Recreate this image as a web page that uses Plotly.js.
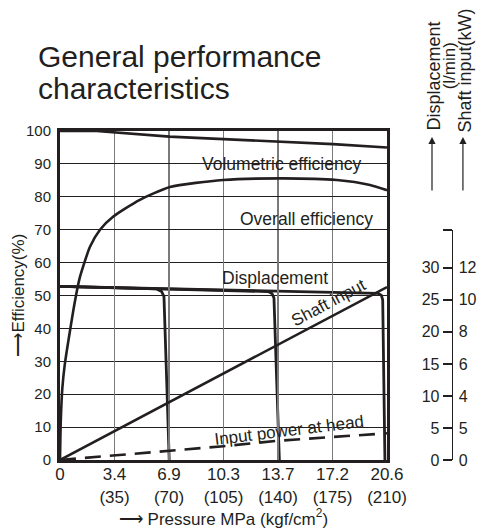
<!DOCTYPE html>
<html>
<head>
<meta charset="utf-8">
<script src="https://cdn.plot.ly/plotly-3.0.1.min.js"></script>
<style>html,body{margin:0;padding:0;background:#fff;}#chart{width:477px;height:532px;}</style>
</head>
<body>
<div id="chart"></div>
<script>
// ---- tick labels ----
var pressureTickVals = [0, 3.433, 6.867, 10.3, 13.733, 17.167, 20.6];
var pressureMPa = ['0', '3.4', '6.9', '10.3', '13.7', '17.2', '20.6'];
var pressureKgf = ['', '(35)', '(70)', '(105)', '(140)', '(175)', '(210)'];
var effTicks = [0, 10, 20, 30, 40, 50, 60, 70, 80, 90, 100];
var dispTickVals = [0, 5, 10, 15, 20, 25, 30, 35.9];
var dispTickText = ['0', '5', '10', '15', '20', '25', '30', ''];
var shaftTickVals = [0, 2, 4, 6, 8, 10, 12];
var shaftTickText = ['0', '5', '4', '6', '8', '10', '12'];

// ---- Volumetric efficiency (%) ----
var volP = [0, 2.3, 6.9, 10.3, 13.7, 17.2, 20.6];
var volE = [100, 100, 98.3, 97.6, 96.9, 96.0, 95.0];

// ---- Overall efficiency (%) ----
var ovP = [0, 0.05, 0.15, 0.3, 0.62, 0.95, 1.25, 1.89, 2.52, 3.36, 5.0, 6.93, 10.27, 14.05, 17.43, 19.53, 20.6];
var ovE = [0, 12, 22, 29, 39, 48.5, 55.5, 64.8, 70, 74, 79, 83, 85.1, 85.6, 85.1, 83.6, 82];

// ---- Displacement (l/min), three cut-off curves ----
var dispAP = [0, 3.43, 6.09, 6.4, 6.55, 6.72, 6.88];
var dispAQ = [27.1, 26.9, 26.7, 26.3, 25.5, 12.5, 0];
var dispBP = [0, 6.9, 13.12, 13.35, 13.48, 13.65, 13.82];
var dispBQ = [27.1, 26.7, 26.3, 26.0, 25.3, 12.5, 0];
var dispCP = [0, 6.9, 13.7, 20.05, 20.25, 20.33, 20.4, 20.47];
var dispCQ = [27.1, 26.7, 26.3, 26.0, 25.7, 25.0, 12.5, 0];

// ---- Shaft input (kW) ----
var shaftP = [0, 3.43, 6.87, 10.3, 13.73, 17.17, 20.6];
var shaftKW = [0, 1.8, 3.6, 5.4, 7.2, 9.0, 10.8];

// ---- Input power at head (kW) ----
var headP = [0, 3.43, 6.87, 10.3, 13.73, 17.17, 20.6];
var headKW = [0, 0.28, 0.54, 0.86, 1.2, 1.45, 1.67];

var ink = '#231f20';
var FONT = '"Liberation Sans", Arial, Helvetica, sans-serif';

var xTickText = pressureMPa.map(function (m, i) {
  return pressureKgf[i] ? m + '<br>' + pressureKgf[i] : m;
});

function line(x, y, yaxis, w, dash) {
  return {
    x: x, y: y, yaxis: yaxis, type: 'scatter', mode: 'lines',
    line: {color: ink, width: w, dash: dash || 'solid', shape: 'linear'},
    hoverinfo: 'skip', showlegend: false
  };
}

var ovTrace = line(ovP, ovE, 'y', 2.6);
ovTrace.line.shape = 'spline';
ovTrace.line.smoothing = 0.6;

var traces = [
  line(volP, volE, 'y', 2.6),
  ovTrace,
  line(dispAP, dispAQ, 'y2', 2.8),
  line(dispBP, dispBQ, 'y2', 2.8),
  line(dispCP, dispCQ, 'y2', 2.8),
  line(shaftP, shaftKW, 'y3', 2.6),
  line(headP, headKW, 'y3', 2.6, '16px,9px')
];

function rot(text, x, y, size) {
  return {text: text, xref: 'paper', yref: 'paper', x: x, y: y, xanchor: 'center', yanchor: 'middle',
          textangle: -90, showarrow: false, font: {size: size, color: ink}};
}

var annots = [
  {text: 'General performance', xref: 'paper', yref: 'paper', x: -0.059, y: 1.225, xanchor: 'left', yanchor: 'middle', showarrow: false, font: {size: 30, color: ink}},
  {text: 'characteristics', xref: 'paper', yref: 'paper', x: -0.059, y: 1.128, xanchor: 'left', yanchor: 'middle', showarrow: false, font: {size: 30, color: ink}},
  rot('Displacement', 0.920, 1.167, 18),
  rot('(l/min)', 0.957, 1.198, 17),
  rot('Shaft input(kW)', 0.996, 1.185, 18),
  rot('\u27F6Efficiency(%)', -0.103, 0.5, 17),
  {text: '', xref: 'paper', yref: 'paper', x: 0.914, y: 0.982, ax: 0, ay: 55, showarrow: true, arrowhead: 2, arrowsize: 1.2, arrowwidth: 1.2, arrowcolor: ink},
  {text: '', xref: 'paper', yref: 'paper', x: 0.990, y: 0.982, ax: 0, ay: 55, showarrow: true, arrowhead: 2, arrowsize: 1.2, arrowwidth: 1.2, arrowcolor: ink},
  {text: 'Volumetric efficiency', xref: 'x', yref: 'y', x: 13.95, y: 90.0, showarrow: false, font: {size: 17.5, color: ink}},
  {text: 'Overall efficiency', xref: 'x', yref: 'y', x: 15.5, y: 73.3, showarrow: false, font: {size: 17.5, color: ink}},
  {text: 'Displacement', xref: 'x', yref: 'y', x: 13.54, y: 55.3, showarrow: false, font: {size: 17.5, color: ink}},
  {text: 'Shaft input', xref: 'x', yref: 'y', x: 16.95, y: 47.8, textangle: -28, showarrow: false, font: {size: 17, color: ink}},
  {text: 'Input power at head', xref: 'x', yref: 'y', x: 14.43, y: 9.0, textangle: -7, showarrow: false, font: {size: 17, color: ink}}
];

var layout = {
  width: 477, height: 532,
  margin: {l: 60, r: 10, t: 131, b: 72, pad: 0},
  paper_bgcolor: '#ffffff',
  plot_bgcolor: 'rgba(0,0,0,0)',
  font: {family: FONT, color: ink, size: 15},
  showlegend: false,
  xaxis: {
    domain: [0, 0.8034], range: [0, 20.6], anchor: 'y',
    tickmode: 'array', tickvals: pressureTickVals, ticktext: xTickText,
    tickfont: {size: 17, color: ink}, ticks: '', ticklabelstandoff: -3,
    showgrid: true, gridcolor: '#7a7a7a', gridwidth: 1.2,
    zeroline: false, showline: true, mirror: true, linecolor: ink, linewidth: 3,
    title: {text: '\u27F6 Pressure MPa (kgf/cm<sup>2</sup>)', font: {size: 17, color: ink}, standoff: 6}
  },
  yaxis: {
    domain: [0, 1], range: [0, 100], anchor: 'x',
    tickmode: 'array', tickvals: effTicks,
    tickfont: {size: 15, color: ink}, ticks: '', ticklabelstandoff: 3,
    showgrid: true, gridcolor: ink, gridwidth: 1,
    zeroline: false, showline: true, mirror: true, linecolor: ink, linewidth: 3
  },
  yaxis2: {
    domain: [0, 0.699], range: [0, 35.9], anchor: 'free', position: 0.9624, side: 'left',
    tickmode: 'array', tickvals: dispTickVals, ticktext: dispTickText,
    tickfont: {size: 16, color: ink}, ticks: 'outside', ticklen: 9, tickwidth: 1.5, tickcolor: ink,
    showgrid: false, zeroline: false, showline: true, linecolor: ink, linewidth: 1.5
  },
  yaxis3: {
    domain: [0, 0.699], range: [0, 14.36], anchor: 'free', position: 0.9624, side: 'right',
    tickmode: 'array', tickvals: shaftTickVals, ticktext: shaftTickText,
    tickfont: {size: 16, color: ink}, ticks: '', ticklabelstandoff: 6,
    showgrid: false, zeroline: false, showline: false
  },
  annotations: annots
};

Plotly.newPlot('chart', traces, layout, {staticPlot: true, displayModeBar: false});
</script>
</body>
</html>
